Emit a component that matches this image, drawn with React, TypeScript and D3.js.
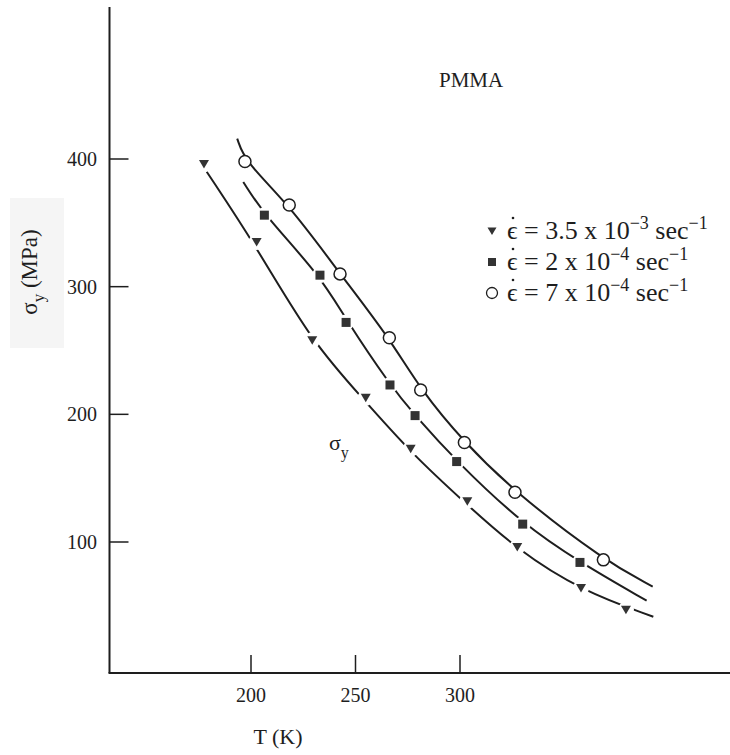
import React from "react";
import * as d3 from "d3";

// Data (T in K, yield stress in MPa)
const triT = [177.5, 202.7, 229.3, 254.9, 276.4, 303.5, 327.4, 357.9, 379.4];
const triS = [396, 335, 258, 213, 173, 132, 96, 64, 47];
const sqT = [206.4, 233, 245.5, 266.5, 278.5, 298.4, 330, 357.4];
const sqS = [356, 309, 272, 223, 199, 163, 114, 84];
const cirT = [197.1, 218.3, 242.6, 266.2, 281.2, 302.1, 326.3, 368.6];
const cirS = [398, 364, 310, 260, 219, 178, 139, 86];

// fitted curves (start, through, end)
const triCurveT = [178.8, 202.7, 229.3, 254.9, 276.4, 303.5, 327.4, 357.9, 392.5];
const triCurveS = [390, 331, 256, 210, 170, 129, 94, 62, 41.5];
const sqCurveT = [196.3, 206.4, 233, 245.5, 266.5, 278.5, 298.4, 330, 357.4, 389.3];
const sqCurveS = [382, 356, 309, 274, 223, 199, 163, 114, 84, 54];
const cirCurveT = [193.4, 197.1, 218.3, 242.6, 266.2, 281.2, 302.1, 326.3, 368.6, 392.2];
const cirCurveS = [416, 398, 364, 310, 260, 219, 178, 139, 86, 65];

const xTicks = [200, 250, 300];
const yTicks = [100, 200, 300, 400];

const legendKinds = ["tri", "sq", "cir"];
const legendCoef = ["3.5", "2", "7"];
const legendExp = ["\u22123", "\u22124", "\u22124"];

const W = 730;
const H = 755;
const FONT = "'Liberation Serif', 'DejaVu Serif', serif";
const INK = "#1e1e1e";

export default function App() {
  const x = d3.scaleLinear().domain([200, 300]).range([251, 460]);
  const y = d3.scaleLinear().domain([100, 400]).range([542, 159]);
  const axisX = 109.5;
  const axisY = 673;

  const mk = (ts: number[], ss: number[]) =>
    d3
      .line<number>()
      .x((_, i) => x(ts[i]))
      .y((_, i) => y(ss[i]))
      .curve(d3.curveBasis)(ts) as string;

  const triPath = (cx: number, cy: number, r = 5) =>
    `M${cx - r},${cy - r * 0.8}L${cx + r},${cy - r * 0.8}L${cx},${cy + r * 0.9}Z`;

  const legendY = [231, 262, 293];

  return (
    <svg
      width={W}
      height={H}
      style={{ position: "absolute", left: 0, top: 0, background: "#fff" }}
      fontFamily={FONT}
    >
      <rect x={0} y={0} width={W} height={H} fill="#fff" />
      {/* faint scan shading behind y label */}
      <rect x={10} y={198} width={54} height={150} fill="#f5f5f5" />

      {/* axes */}
      <line x1={axisX} y1={7} x2={axisX} y2={axisY} stroke={INK} strokeWidth={2} />
      <line x1={axisX - 1} y1={axisY} x2={W} y2={axisY} stroke={INK} strokeWidth={2} />
      {yTicks.map((t) => (
        <g key={"y" + t}>
          <line x1={axisX} x2={axisX + 19} y1={y(t)} y2={y(t)} stroke={INK} strokeWidth={1.5} />
          <text x={97} y={y(t) + 7} textAnchor="end" fontSize={20} fill={INK}>
            {t}
          </text>
        </g>
      ))}
      {xTicks.map((t) => (
        <g key={"x" + t}>
          <line x1={x(t)} x2={x(t)} y1={axisY} y2={axisY - 18} stroke={INK} strokeWidth={1.5} />
          <text x={x(t)} y={702} textAnchor="middle" fontSize={20} fill={INK}>
            {t}
          </text>
        </g>
      ))}

      {/* axis titles */}
      <text x={278} y={744} textAnchor="middle" fontSize={22} fill={INK}>
        T (K)
      </text>
      <text
        transform="translate(37,272) rotate(-90)"
        textAnchor="middle"
        fontSize={23}
        fill={INK}
      >
        σ
        <tspan fontSize={17} dy={7}>y</tspan>
        <tspan dy={-7}> (MPa)</tspan>
      </text>

      <text x={439} y={87} fontSize={21} fill={INK}>
        PMMA
      </text>

      <text x={329} y={450} fontSize={22} fill={INK}>
        σ<tspan fontSize={16} dy={8}>y</tspan>
      </text>

      {/* curves */}
      <path d={mk(triCurveT, triCurveS)} fill="none" stroke={INK} strokeWidth={2} />
      <path d={mk(sqCurveT, sqCurveS)} fill="none" stroke={INK} strokeWidth={2} />
      <path d={mk(cirCurveT, cirCurveS)} fill="none" stroke={INK} strokeWidth={2} />

      {/* gaps around filled markers */}
      {triT.map((t, i) => (
        <circle key={"gt" + i} cx={x(t)} cy={y(triS[i])} r={8} fill="#fff" />
      ))}
      {sqT.map((t, i) => (
        <circle key={"gs" + i} cx={x(t)} cy={y(sqS[i])} r={8} fill="#fff" />
      ))}

      {/* markers */}
      {triT.map((t, i) => (
        <path key={"t" + i} d={triPath(x(t), y(triS[i]))} fill="#333" />
      ))}
      {sqT.map((t, i) => (
        <rect key={"s" + i} x={x(t) - 4.5} y={y(sqS[i]) - 4.5} width={9} height={9} fill="#333" />
      ))}
      {cirT.map((t, i) => (
        <circle key={"c" + i} cx={x(t)} cy={y(cirS[i])} r={6} fill="#fff" stroke={INK} strokeWidth={1.5} />
      ))}

      {/* legend */}
      {legendKinds.map((kind, i) => {
        const cy = legendY[i];
        return (
          <g key={kind}>
            {kind === "tri" && <path d={triPath(492, cy, 4.5)} fill="#333" />}
            {kind === "sq" && <rect x={488} y={cy - 4} width={8} height={8} fill="#333" />}
            {kind === "cir" && <circle cx={492} cy={cy} r={5.5} fill="#fff" stroke={INK} strokeWidth={1.3} />}
            <circle cx={513} cy={cy - 13} r={1.3} fill={INK} />
            <text x={507} y={cy + 8} fontSize={26} fill={INK}>
              ϵ = {legendCoef[i]} x 10
              <tspan fontSize={18} dy={-10}>{legendExp[i]}</tspan>
              <tspan dy={10}> sec</tspan>
              <tspan fontSize={18} dy={-10}>{"\u22121"}</tspan>
            </text>
          </g>
        );
      })}
    </svg>
  );
}
